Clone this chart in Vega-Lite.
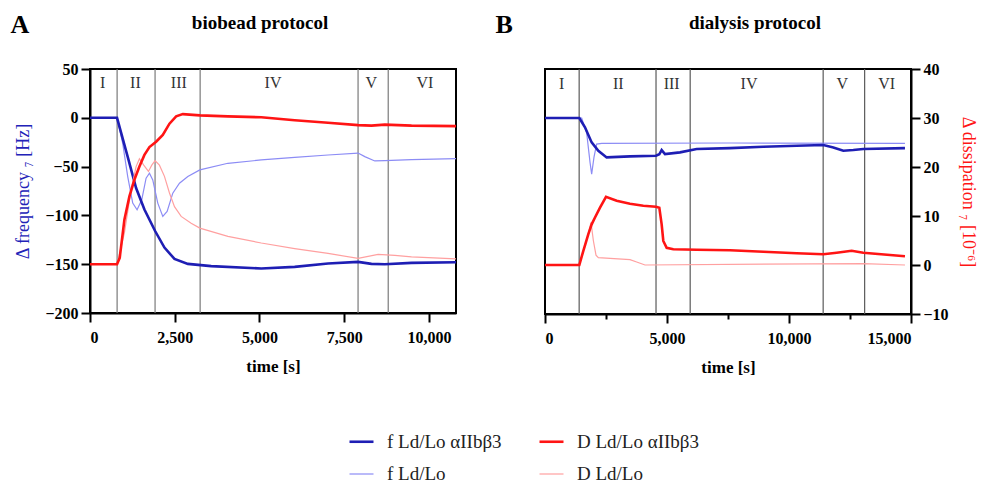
{
  "$schema": "https://vega.github.io/schema/vega-lite/v6.json",
  "padding": {"left": 9, "top": 10, "right": 0, "bottom": 0},
  "background": "white",
  "config": {
    "font": "Liberation Serif",
    "view": {"stroke": "black", "strokeWidth": 2},
    "axis": {
      "grid": false, "domainColor": "black", "domainWidth": 2, "tickColor": "black", "tickWidth": 2, "tickSize": 9,
      "labelFont": "Liberation Serif", "labelFontSize": 16, "labelFontWeight": "bold", "labelColor": "black", "labelPadding": 3,
      "titleFont": "Liberation Serif", "titleColor": "black"
    },
    "title": {"font": "Liberation Serif", "color": "black", "fontWeight": "bold"},
    "legend": {
      "labelFont": "Liberation Serif", "labelFontSize": 19, "labelColor": "#222", "symbolType": "stroke",
      "symbolSize": 576, "labelOffset": 12, "rowPadding": 9, "columnPadding": 32
    }
  },
  "datasets": {
    "A": [
      {"s": "f Ld/Lo", "t": 0, "v": 0}, {"s": "f Ld/Lo", "t": 798, "v": 0}, {"s": "f Ld/Lo", "t": 965, "v": -26.2}, {"s": "f Ld/Lo", "t": 1113, "v": -60.2}, {"s": "f Ld/Lo", "t": 1261, "v": -87.4}, {"s": "f Ld/Lo", "t": 1389, "v": -94.2}, {"s": "f Ld/Lo", "t": 1527, "v": -84}, {"s": "f Ld/Lo", "t": 1655, "v": -61.9}, {"s": "f Ld/Lo", "t": 1754, "v": -56.8}, {"s": "f Ld/Lo", "t": 1852, "v": -63.6}, {"s": "f Ld/Lo", "t": 2000, "v": -87.4}, {"s": "f Ld/Lo", "t": 2148, "v": -101}, {"s": "f Ld/Lo", "t": 2276, "v": -95.9}, {"s": "f Ld/Lo", "t": 2443, "v": -77.2}, {"s": "f Ld/Lo", "t": 2640, "v": -67}, {"s": "f Ld/Lo", "t": 2887, "v": -60.2}, {"s": "f Ld/Lo", "t": 3241, "v": -53.4}, {"s": "f Ld/Lo", "t": 4069, "v": -46.6}, {"s": "f Ld/Lo", "t": 5054, "v": -43.2}, {"s": "f Ld/Lo", "t": 6039, "v": -40.5}, {"s": "f Ld/Lo", "t": 7024, "v": -38.1}, {"s": "f Ld/Lo", "t": 7911, "v": -36.1}, {"s": "f Ld/Lo", "t": 8108, "v": -39.8}, {"s": "f Ld/Lo", "t": 8404, "v": -44.2}, {"s": "f Ld/Lo", "t": 8699, "v": -43.9}, {"s": "f Ld/Lo", "t": 9487, "v": -42.9}, {"s": "f Ld/Lo", "t": 10800, "v": -41.8},
      {"s": "D Ld/Lo", "t": 0, "v": 0}, {"s": "D Ld/Lo", "t": 798, "v": 0}, {"s": "D Ld/Lo", "t": 1015, "v": 6.4}, {"s": "D Ld/Lo", "t": 1212, "v": 15.2}, {"s": "D Ld/Lo", "t": 1360, "v": 20.0}, {"s": "D Ld/Lo", "t": 1458, "v": 21.6}, {"s": "D Ld/Lo", "t": 1586, "v": 20.3}, {"s": "D Ld/Lo", "t": 1724, "v": 19.0}, {"s": "D Ld/Lo", "t": 1823, "v": 20.3}, {"s": "D Ld/Lo", "t": 1921, "v": 21.2}, {"s": "D Ld/Lo", "t": 2049, "v": 20.3}, {"s": "D Ld/Lo", "t": 2197, "v": 18.0}, {"s": "D Ld/Lo", "t": 2345, "v": 14.6}, {"s": "D Ld/Lo", "t": 2493, "v": 11.8}, {"s": "D Ld/Lo", "t": 2690, "v": 9.8}, {"s": "D Ld/Lo", "t": 2985, "v": 8.4}, {"s": "D Ld/Lo", "t": 3241, "v": 7.4}, {"s": "D Ld/Lo", "t": 4069, "v": 5.7}, {"s": "D Ld/Lo", "t": 5054, "v": 4.35}, {"s": "D Ld/Lo", "t": 6039, "v": 3.2}, {"s": "D Ld/Lo", "t": 7024, "v": 2.2}, {"s": "D Ld/Lo", "t": 7911, "v": 1.2}, {"s": "D Ld/Lo", "t": 8207, "v": 1.6}, {"s": "D Ld/Lo", "t": 8502, "v": 2.0}, {"s": "D Ld/Lo", "t": 8995, "v": 1.8}, {"s": "D Ld/Lo", "t": 9487, "v": 1.5}, {"s": "D Ld/Lo", "t": 10800, "v": 1.1},
      {"s": "f Ld/Lo αIIbβ3", "t": 0, "v": 0}, {"s": "f Ld/Lo αIIbβ3", "t": 798, "v": 0}, {"s": "f Ld/Lo αIIbβ3", "t": 1113, "v": -40}, {"s": "f Ld/Lo αIIbβ3", "t": 1360, "v": -72}, {"s": "f Ld/Lo αIIbβ3", "t": 1606, "v": -94}, {"s": "f Ld/Lo αIIbβ3", "t": 1921, "v": -116}, {"s": "f Ld/Lo αIIbβ3", "t": 2197, "v": -133}, {"s": "f Ld/Lo αIIbβ3", "t": 2493, "v": -144.6}, {"s": "f Ld/Lo αIIbβ3", "t": 2887, "v": -149.7}, {"s": "f Ld/Lo αIIbβ3", "t": 3576, "v": -152}, {"s": "f Ld/Lo αIIbβ3", "t": 5054, "v": -154.4}, {"s": "f Ld/Lo αIIbβ3", "t": 6039, "v": -152.7}, {"s": "f Ld/Lo αIIbβ3", "t": 7024, "v": -149.3}, {"s": "f Ld/Lo αIIbβ3", "t": 7911, "v": -147.6}, {"s": "f Ld/Lo αIIbβ3", "t": 8305, "v": -149.7}, {"s": "f Ld/Lo αIIbβ3", "t": 8699, "v": -150}, {"s": "f Ld/Lo αIIbβ3", "t": 9487, "v": -148.6}, {"s": "f Ld/Lo αIIbβ3", "t": 10800, "v": -148},
      {"s": "D Ld/Lo αIIbβ3", "t": 0, "v": 0}, {"s": "D Ld/Lo αIIbβ3", "t": 798, "v": 0}, {"s": "D Ld/Lo αIIbβ3", "t": 877, "v": 1.3}, {"s": "D Ld/Lo αIIbβ3", "t": 1015, "v": 9.1}, {"s": "D Ld/Lo αIIbβ3", "t": 1163, "v": 13.9}, {"s": "D Ld/Lo αIIbβ3", "t": 1310, "v": 17.3}, {"s": "D Ld/Lo αIIbβ3", "t": 1458, "v": 20.0}, {"s": "D Ld/Lo αIIbβ3", "t": 1606, "v": 22.4}, {"s": "D Ld/Lo αIIbβ3", "t": 1754, "v": 24.0}, {"s": "D Ld/Lo αIIbβ3", "t": 1951, "v": 25.1}, {"s": "D Ld/Lo αIIbβ3", "t": 2148, "v": 26.5}, {"s": "D Ld/Lo αIIbβ3", "t": 2345, "v": 28.8}, {"s": "D Ld/Lo αIIbβ3", "t": 2542, "v": 30.3}, {"s": "D Ld/Lo αIIbβ3", "t": 2739, "v": 30.75}, {"s": "D Ld/Lo αIIbβ3", "t": 3241, "v": 30.5}, {"s": "D Ld/Lo αIIbβ3", "t": 4069, "v": 30.3}, {"s": "D Ld/Lo αIIbβ3", "t": 5054, "v": 30.1}, {"s": "D Ld/Lo αIIbβ3", "t": 6039, "v": 29.5}, {"s": "D Ld/Lo αIIbβ3", "t": 7024, "v": 29.0}, {"s": "D Ld/Lo αIIbβ3", "t": 7911, "v": 28.5}, {"s": "D Ld/Lo αIIbβ3", "t": 8305, "v": 28.4}, {"s": "D Ld/Lo αIIbβ3", "t": 8699, "v": 28.6}, {"s": "D Ld/Lo αIIbβ3", "t": 9487, "v": 28.4}, {"s": "D Ld/Lo αIIbβ3", "t": 10800, "v": 28.3}
    ],
    "B": [
      {"s": "f Ld/Lo", "t": 0, "v": 0}, {"s": "f Ld/Lo", "t": 1503, "v": 0}, {"s": "f Ld/Lo", "t": 1707, "v": -15}, {"s": "f Ld/Lo", "t": 1844, "v": -45}, {"s": "f Ld/Lo", "t": 1912, "v": -57.3}, {"s": "f Ld/Lo", "t": 2008, "v": -40}, {"s": "f Ld/Lo", "t": 2117, "v": -26.6}, {"s": "f Ld/Lo", "t": 2322, "v": -25.9}, {"s": "f Ld/Lo", "t": 7581, "v": -25.5}, {"s": "f Ld/Lo", "t": 14753, "v": -25.9},
      {"s": "D Ld/Lo", "t": 0, "v": 0}, {"s": "D Ld/Lo", "t": 1407, "v": 0}, {"s": "D Ld/Lo", "t": 1571, "v": 2.9}, {"s": "D Ld/Lo", "t": 1776, "v": 6.3}, {"s": "D Ld/Lo", "t": 1885, "v": 8.7}, {"s": "D Ld/Lo", "t": 1981, "v": 5}, {"s": "D Ld/Lo", "t": 2090, "v": 2}, {"s": "D Ld/Lo", "t": 2186, "v": 1.5}, {"s": "D Ld/Lo", "t": 3483, "v": 1.1}, {"s": "D Ld/Lo", "t": 3757, "v": 0.6}, {"s": "D Ld/Lo", "t": 4098, "v": 0}, {"s": "D Ld/Lo", "t": 13045, "v": 0.3}, {"s": "D Ld/Lo", "t": 14753, "v": 0},
      {"s": "f Ld/Lo αIIbβ3", "t": 0, "v": 0}, {"s": "f Ld/Lo αIIbβ3", "t": 1407, "v": 0}, {"s": "f Ld/Lo αIIbβ3", "t": 1639, "v": -9.5}, {"s": "f Ld/Lo αIIbβ3", "t": 1912, "v": -24.9}, {"s": "f Ld/Lo αIIbβ3", "t": 2186, "v": -33.4}, {"s": "f Ld/Lo αIIbβ3", "t": 2527, "v": -40.2}, {"s": "f Ld/Lo αIIbβ3", "t": 3483, "v": -39.2}, {"s": "f Ld/Lo αIIbβ3", "t": 4549, "v": -38.5}, {"s": "f Ld/Lo αIIbβ3", "t": 4685, "v": -37}, {"s": "f Ld/Lo αIIbβ3", "t": 4781, "v": -32.7}, {"s": "f Ld/Lo αIIbβ3", "t": 4918, "v": -36.8}, {"s": "f Ld/Lo αIIbβ3", "t": 5532, "v": -35.1}, {"s": "f Ld/Lo αIIbβ3", "t": 6215, "v": -31.7}, {"s": "f Ld/Lo αIIbβ3", "t": 7581, "v": -30.7}, {"s": "f Ld/Lo αIIbβ3", "t": 8947, "v": -29.3}, {"s": "f Ld/Lo αIIbβ3", "t": 10313, "v": -28.3}, {"s": "f Ld/Lo αIIbβ3", "t": 11406, "v": -27.6}, {"s": "f Ld/Lo αIIbβ3", "t": 11816, "v": -30}, {"s": "f Ld/Lo αIIbβ3", "t": 12226, "v": -33.4}, {"s": "f Ld/Lo αIIbβ3", "t": 12636, "v": -32.7}, {"s": "f Ld/Lo αIIbβ3", "t": 13045, "v": -31.7}, {"s": "f Ld/Lo αIIbβ3", "t": 14753, "v": -30.7},
      {"s": "D Ld/Lo αIIbβ3", "t": 0, "v": 0}, {"s": "D Ld/Lo αIIbβ3", "t": 1407, "v": 0}, {"s": "D Ld/Lo αIIbβ3", "t": 1571, "v": 2.9}, {"s": "D Ld/Lo αIIbβ3", "t": 1776, "v": 6.3}, {"s": "D Ld/Lo αIIbβ3", "t": 1912, "v": 8.3}, {"s": "D Ld/Lo αIIbβ3", "t": 2049, "v": 9.7}, {"s": "D Ld/Lo αIIbβ3", "t": 2254, "v": 11.7}, {"s": "D Ld/Lo αIIbβ3", "t": 2500, "v": 13.9}, {"s": "D Ld/Lo αIIbβ3", "t": 2937, "v": 13.1}, {"s": "D Ld/Lo αIIbβ3", "t": 3483, "v": 12.5}, {"s": "D Ld/Lo αIIbβ3", "t": 4030, "v": 12.1}, {"s": "D Ld/Lo αIIbβ3", "t": 4549, "v": 11.9}, {"s": "D Ld/Lo αIIbβ3", "t": 4685, "v": 11.7}, {"s": "D Ld/Lo αIIbβ3", "t": 4781, "v": 8.3}, {"s": "D Ld/Lo αIIbβ3", "t": 4849, "v": 4.9}, {"s": "D Ld/Lo αIIbβ3", "t": 4986, "v": 3.5}, {"s": "D Ld/Lo αIIbβ3", "t": 5259, "v": 3.2}, {"s": "D Ld/Lo αIIbβ3", "t": 6215, "v": 3.1}, {"s": "D Ld/Lo αIIbβ3", "t": 7581, "v": 3.0}, {"s": "D Ld/Lo αIIbβ3", "t": 8947, "v": 2.7}, {"s": "D Ld/Lo αIIbβ3", "t": 10313, "v": 2.4}, {"s": "D Ld/Lo αIIbβ3", "t": 11406, "v": 2.2}, {"s": "D Ld/Lo αIIbβ3", "t": 11953, "v": 2.5}, {"s": "D Ld/Lo αIIbβ3", "t": 12567, "v": 2.9}, {"s": "D Ld/Lo αIIbβ3", "t": 13045, "v": 2.5}, {"s": "D Ld/Lo αIIbβ3", "t": 14753, "v": 1.8}
    ],
    "bA": [{"t": 800}, {"t": 1920}, {"t": 3250}, {"t": 7910}, {"t": 8800}],
    "bB": [{"t": 1400}, {"t": 4550}, {"t": 5950}, {"t": 11400}, {"t": 13100}],
    "lA": [{"t": 375, "lab": "I"}, {"t": 1340, "lab": "II"}, {"t": 2620, "lab": "III"}, {"t": 5400, "lab": "IV"}, {"t": 8300, "lab": "V"}, {"t": 9880, "lab": "VI"}],
    "lB": [{"t": 684, "lab": "I"}, {"t": 3004, "lab": "II"}, {"t": 5192, "lab": "III"}, {"t": 8361, "lab": "IV"}, {"t": 12185, "lab": "V"}, {"t": 14004, "lab": "VI"}]
  },
  "bounds": "flush",
  "spacing": 89,
  "resolve": {"scale": {"color": "shared", "strokeWidth": "shared"}},
  "hconcat": [
    {
      "title": {"text": "biobead protocol", "fontSize": 19, "offset": -22, "dx": -13},
      "width": 366, "height": 244,
      "resolve": {"scale": {"y": "independent"}, "axis": {"x": "independent"}},
      "layer": [
        {
          "data": {"name": "bA"},
          "mark": {"type": "rule", "color": "#7a7a7a", "strokeWidth": 1.2},
          "encoding": {
            "x": {"field": "t", "type": "quantitative", "scale": {"domain": [0, 10800], "nice": false}, "axis": {"values": [0, 2500, 5000, 7500, 10000], "format": ",.0f", "title": "time [s]", "titleFontSize": 17, "titleFontWeight": "bold", "titlePadding": 13, "labelPadding": 7}}
          }
        },
        {
          "data": {"name": "lA"},
          "mark": {"type": "text", "fontSize": 16, "color": "#333", "baseline": "middle"},
          "encoding": {
            "x": {"field": "t", "type": "quantitative", "scale": {"domain": [0, 10800], "nice": false}, "axis": {"orient": "top", "title": "A", "labels": false, "ticks": false, "domain": false, "titleFontSize": 26, "titleFontWeight": "bold", "titleAlign": "left", "titleAnchor": "start", "titleBaseline": "alphabetic", "titleX": -80, "titleY": -37}},
            "y": {"datum": 36, "type": "quantitative", "scale": {"domain": [-200, 50], "nice": false}, "axis": null},
            "text": {"field": "lab"}
          }
        },
        {
          "data": {"name": "A"},
          "transform": [{"filter": {"field": "s", "oneOf": ["f Ld/Lo", "f Ld/Lo αIIbβ3"]}}],
          "mark": {"type": "line"},
          "encoding": {
            "x": {"field": "t", "type": "quantitative", "scale": {"domain": [0, 10800], "nice": false}, "axis": null},
            "y": {"field": "v", "type": "quantitative", "scale": {"domain": [-200, 50], "nice": false}, "axis": {"values": [-200, -150, -100, -50, 0, 50], "title": "Δ frequency ₇ [Hz]", "titleColor": "#2222b8", "titleFontSize": 18, "titleFontWeight": "normal", "titlePadding": 12}},
            "color": {"field": "s", "type": "nominal", "scale": {"domain": ["f Ld/Lo αIIbβ3", "f Ld/Lo", "D Ld/Lo αIIbβ3", "D Ld/Lo"], "range": ["#1e1eb4", "#8c8cf5", "#ff1414", "#ffa0a0"]}, "legend": {"orient": "none", "legendX": 258, "legendY": 359, "columns": 2, "title": null}},
            "strokeWidth": {"field": "s", "type": "nominal", "scale": {"type": "ordinal", "domain": ["f Ld/Lo αIIbβ3", "f Ld/Lo", "D Ld/Lo αIIbβ3", "D Ld/Lo"], "range": [2.6, 1.2, 2.6, 1.2]}, "legend": {"orient": "none", "legendX": 258, "legendY": 359, "columns": 2, "title": null}}
          }
        },
        {
          "data": {"name": "A"},
          "transform": [{"filter": {"field": "s", "oneOf": ["D Ld/Lo", "D Ld/Lo αIIbβ3"]}}],
          "mark": {"type": "line"},
          "encoding": {
            "x": {"field": "t", "type": "quantitative", "scale": {"domain": [0, 10800], "nice": false}, "axis": null},
            "y": {"field": "v", "type": "quantitative", "scale": {"domain": [-10, 40], "nice": false}, "axis": null},
            "color": {"field": "s", "type": "nominal", "scale": {"domain": ["f Ld/Lo αIIbβ3", "f Ld/Lo", "D Ld/Lo αIIbβ3", "D Ld/Lo"], "range": ["#1e1eb4", "#8c8cf5", "#ff1414", "#ffa0a0"]}, "legend": {"orient": "none", "legendX": 258, "legendY": 359, "columns": 2, "title": null}},
            "strokeWidth": {"field": "s", "type": "nominal", "scale": {"type": "ordinal", "domain": ["f Ld/Lo αIIbβ3", "f Ld/Lo", "D Ld/Lo αIIbβ3", "D Ld/Lo"], "range": [2.6, 1.2, 2.6, 1.2]}, "legend": {"orient": "none", "legendX": 258, "legendY": 359, "columns": 2, "title": null}}
          }
        }
      ]
    },
    {
      "title": {"text": "dialysis protocol", "fontSize": 19, "offset": -22, "dx": 27},
      "width": 366, "height": 245,
      "resolve": {"scale": {"y": "independent"}, "axis": {"x": "independent"}},
      "layer": [
        {
          "data": {"name": "bB"},
          "mark": {"type": "rule", "color": "#5a5a5a", "strokeWidth": 1.2},
          "encoding": {
            "x": {"field": "t", "type": "quantitative", "scale": {"domain": [0, 15000], "nice": false}, "axis": {"values": [0, 2500, 5000, 7500, 10000, 12500, 15000], "labelExpr": "datum.value % 5000 === 0 ? format(datum.value, ',') : ''", "tickSize": {"condition": {"test": "datum.value % 5000 === 0", "value": 9}, "value": 5}, "title": "time [s]", "titleFontSize": 17, "titleFontWeight": "bold", "titlePadding": 13, "labelPadding": 7}}
          }
        },
        {
          "data": {"name": "lB"},
          "mark": {"type": "text", "fontSize": 16, "color": "#333", "baseline": "middle"},
          "encoding": {
            "x": {"field": "t", "type": "quantitative", "scale": {"domain": [0, 15000], "nice": false}, "axis": {"orient": "top", "title": "B", "labels": false, "ticks": false, "domain": false, "titleFontSize": 26, "titleFontWeight": "bold", "titleAlign": "left", "titleAnchor": "start", "titleBaseline": "alphabetic", "titleX": -50, "titleY": -37}},
            "y": {"datum": 35, "type": "quantitative", "scale": {"domain": [-200, 50], "nice": false}, "axis": null},
            "text": {"field": "lab"}
          }
        },
        {
          "data": {"name": "B"},
          "transform": [{"filter": {"field": "s", "oneOf": ["f Ld/Lo", "f Ld/Lo αIIbβ3"]}}],
          "mark": {"type": "line"},
          "encoding": {
            "x": {"field": "t", "type": "quantitative", "scale": {"domain": [0, 15000], "nice": false}, "axis": null},
            "y": {"field": "v", "type": "quantitative", "scale": {"domain": [-200, 50], "nice": false}, "axis": null},
            "color": {"field": "s", "type": "nominal", "scale": {"domain": ["f Ld/Lo αIIbβ3", "f Ld/Lo", "D Ld/Lo αIIbβ3", "D Ld/Lo"], "range": ["#1e1eb4", "#8c8cf5", "#ff1414", "#ffa0a0"]}, "legend": {"orient": "none", "legendX": 258, "legendY": 359, "columns": 2, "title": null}},
            "strokeWidth": {"field": "s", "type": "nominal", "scale": {"type": "ordinal", "domain": ["f Ld/Lo αIIbβ3", "f Ld/Lo", "D Ld/Lo αIIbβ3", "D Ld/Lo"], "range": [2.6, 1.2, 2.6, 1.2]}, "legend": {"orient": "none", "legendX": 258, "legendY": 359, "columns": 2, "title": null}}
          }
        },
        {
          "data": {"name": "B"},
          "transform": [{"filter": {"field": "s", "oneOf": ["D Ld/Lo", "D Ld/Lo αIIbβ3"]}}],
          "mark": {"type": "line"},
          "encoding": {
            "x": {"field": "t", "type": "quantitative", "scale": {"domain": [0, 15000], "nice": false}, "axis": null},
            "y": {"field": "v", "type": "quantitative", "scale": {"domain": [-10, 40], "nice": false}, "axis": {"orient": "right", "values": [-10, 0, 10, 20, 30, 40], "title": "Δ dissipation ₇ [10⁻⁶]", "titleColor": "#ff1414", "titleFontSize": 18, "titleFontWeight": "normal", "titlePadding": 10}},
            "color": {"field": "s", "type": "nominal", "scale": {"domain": ["f Ld/Lo αIIbβ3", "f Ld/Lo", "D Ld/Lo αIIbβ3", "D Ld/Lo"], "range": ["#1e1eb4", "#8c8cf5", "#ff1414", "#ffa0a0"]}, "legend": {"orient": "none", "legendX": 258, "legendY": 359, "columns": 2, "title": null}},
            "strokeWidth": {"field": "s", "type": "nominal", "scale": {"type": "ordinal", "domain": ["f Ld/Lo αIIbβ3", "f Ld/Lo", "D Ld/Lo αIIbβ3", "D Ld/Lo"], "range": [2.6, 1.2, 2.6, 1.2]}, "legend": {"orient": "none", "legendX": 258, "legendY": 359, "columns": 2, "title": null}}
          }
        }
      ]
    }
  ]
}
